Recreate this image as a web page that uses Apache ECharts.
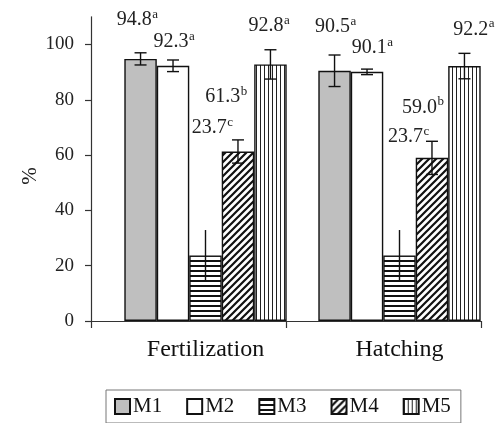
<!DOCTYPE html>
<html><head><meta charset="utf-8">
<script src="https://cdn.jsdelivr.net/npm/echarts@6/dist/echarts.min.js"></script>
<style>html,body{margin:0;padding:0;background:#fff}#c{width:500px;height:423px}</style>
</head><body><div id="c"></div>
<script>
// ---- data ----
const categories = ['Fertilization', 'Hatching'];
const methods = ['M1', 'M2', 'M3', 'M4', 'M5'];
const M1 = [94.8, 90.5];
const M2 = [92.3, 90.1];
const M3 = [23.7, 23.7];
const M4 = [61.3, 59.0];
const M5 = [92.8, 92.2];
const M1err = [2.2, 5.7];
const M2err = [2.1, 1.0];
const M3err = [9.2, 9.2];
const M4err = [4.2, 6.0];
const M5err = [5.3, 4.6];
const M1sig = ['a', 'a'];
const M2sig = ['a', 'a'];
const M3sig = ['c', 'c'];
const M4sig = ['b', 'b'];
const M5sig = ['a', 'a'];
const yTicks = [0, 20, 40, 60, 80, 100];

const values = [M1, M2, M3, M4, M5];
const errs = [M1err, M2err, M3err, M4err, M5err];
const sigs = [M1sig, M2sig, M3sig, M4sig, M5sig];

// ---- layout (label offsets from bar centre / error-bar top, px) ----
const labelOffsets = [
  [[-23.8, -33], [-19.5, -28]],
  [[-19.6, -18], [-15.2, -21]],
  [[-13.7, -102], [-11.4, -93]],
  [[-32.8, -43], [-30, -34]],
  [[-22, -24], [-11.3, -24]]
];
const capWidth = [12, 12, 0, 12, 12];
const catGap = 0.163;
const serif = 'Liberation Serif, Times New Roman, serif';
const numFont = '20px ' + serif;
const supFont = '13px ' + serif;

const measureCtx = document.createElement('canvas').getContext('2d');
function textWidth(t, font) { measureCtx.font = font; return measureCtx.measureText(t).width; }

function makePattern(kind) {
  const c = document.createElement('canvas');
  const ctx = c.getContext('2d');
  if (kind === 'h') {
    c.width = 4; c.height = 5;
    ctx.fillStyle = '#fff'; ctx.fillRect(0, 0, 4, 5);
    ctx.fillStyle = '#111'; ctx.fillRect(0, 0, 4, 2);
  } else if (kind === 'd') {
    const s = 7;
    c.width = s; c.height = s;
    ctx.fillStyle = '#fff'; ctx.fillRect(0, 0, s, s);
    ctx.strokeStyle = '#111'; ctx.lineWidth = 2.2;
    ctx.beginPath();
    ctx.moveTo(0, s); ctx.lineTo(s, 0);
    ctx.moveTo(-2, 2); ctx.lineTo(2, -2);
    ctx.moveTo(s - 2, s + 2); ctx.lineTo(s + 2, s - 2);
    ctx.stroke();
  } else {
    c.width = 4; c.height = 4;
    ctx.fillStyle = '#fff'; ctx.fillRect(0, 0, 4, 4);
    ctx.fillStyle = '#222'; ctx.fillRect(0, 0, 1, 4);
  }
  return { image: c, repeat: 'repeat' };
}

const fills = ['#bfbfbf', '#ffffff', makePattern('h'), makePattern('d'), makePattern('v')];

const errData = [];
methods.forEach((m, mi) => {
  categories.forEach((cat, ci) => {
    errData.push([ci, mi, values[mi][ci], errs[mi][ci]]);
  });
});

const barSeries = methods.map((m, mi) => ({
  name: m,
  type: 'bar',
  xAxisIndex: 1,
  yAxisIndex: 1,
  barGap: '0%',
  barCategoryGap: (catGap * 100) + '%',
  data: values[mi],
  itemStyle: { color: fills[mi], borderColor: '#111', borderWidth: 1.4 },
  emphasis: { disabled: true },
  z: 2
}));

const errSeries = {
  type: 'custom',
  xAxisIndex: 1,
  yAxisIndex: 1,
  z: 5,
  silent: true,
  data: errData,
  renderItem: function (params, api) {
    const ci = api.value(0), mi = api.value(1), v = api.value(2), e = api.value(3);
    const band = api.size([1, 0])[0];
    const bw = band * (1 - catGap) / 5;
    const cx = api.coord([ci, 0])[0] + (mi - 2) * bw;
    const yTop = api.coord([ci, v + e])[1];
    const yBot = api.coord([ci, v - e])[1];
    const cw = capWidth[mi] / 2;
    const ls = { stroke: '#111', lineWidth: 1.4 };
    const children = [
      { type: 'line', shape: { x1: cx, y1: yTop, x2: cx, y2: yBot }, style: ls }
    ];
    if (cw > 0) {
      children.push({ type: 'line', shape: { x1: cx - cw, y1: yTop, x2: cx + cw, y2: yTop }, style: ls });
      children.push({ type: 'line', shape: { x1: cx - cw, y1: yBot, x2: cx + cw, y2: yBot }, style: ls });
    }
    const off = labelOffsets[mi][ci];
    const numText = values[mi][ci].toFixed(1);
    const lx = cx + off[0], ly = yTop + off[1];
    children.push({
      type: 'text', x: lx, y: ly,
      style: { text: numText, font: numFont, fill: '#222', align: 'left', verticalAlign: 'middle' }
    });
    children.push({
      type: 'text', x: lx + textWidth(numText, numFont) + 0.5, y: ly - 5.5,
      style: { text: sigs[mi][ci], font: supFont, fill: '#222', align: 'left', verticalAlign: 'middle' }
    });
    return { type: 'group', children: children };
  }
};

const chart = echarts.init(document.getElementById('c'), null, { renderer: 'canvas' });
chart.setOption({
  backgroundColor: '#fff',
  animation: false,
  grid: [
    { left: 91, right: 19, top: 16.85, bottom: 102 },
    { left: 108.5, right: 3.5, top: 16.85, bottom: 102 }
  ],
  xAxis: [
    {
      gridIndex: 0, type: 'category', data: categories, boundaryGap: true,
      axisLine: { lineStyle: { color: '#333', width: 1.2 } },
      axisTick: { show: true, length: 7, interval: 0, alignWithLabel: false, lineStyle: { color: '#333', width: 1.2 } },
      axisLabel: { show: false }
    },
    {
      gridIndex: 1, type: 'category', data: categories,
      axisLine: { show: false }, axisTick: { show: false },
      axisLabel: { fontFamily: serif, fontSize: 24, color: '#111', margin: 16.5 }
    }
  ],
  yAxis: [
    {
      gridIndex: 0, type: 'value', min: 0, max: 110, interval: 20,
      axisLine: { show: true, lineStyle: { color: '#333', width: 1.2 } },
      axisTick: { show: true, length: 6, customValues: yTicks, lineStyle: { color: '#333', width: 1.2 } },
      axisLabel: { customValues: yTicks, fontFamily: serif, fontSize: 19, color: '#222', margin: 17 },
      splitLine: { show: false }
    },
    {
      gridIndex: 1, type: 'value', min: 0, max: 110, interval: 20,
      show: false, splitLine: { show: false }
    }
  ],
  legend: {
    data: methods,
    left: 106, top: 390,
    padding: [6, 10, 6, 8],
    borderColor: '#777', borderWidth: 1,
    itemWidth: 15, itemHeight: 15, itemGap: 24,
    icon: 'rect',
    selectedMode: false,
    textStyle: { fontFamily: serif, fontSize: 21, color: '#111', padding: [0, 0, 0, -2] }
  },
  graphic: [{
    type: 'text', x: 30, y: 176, rotation: Math.PI / 2,
    style: { text: '%', font: '21px ' + serif, fill: '#222', align: 'center', verticalAlign: 'middle' }
  }],
  series: barSeries.concat([errSeries])
});
</script>
</body></html>
